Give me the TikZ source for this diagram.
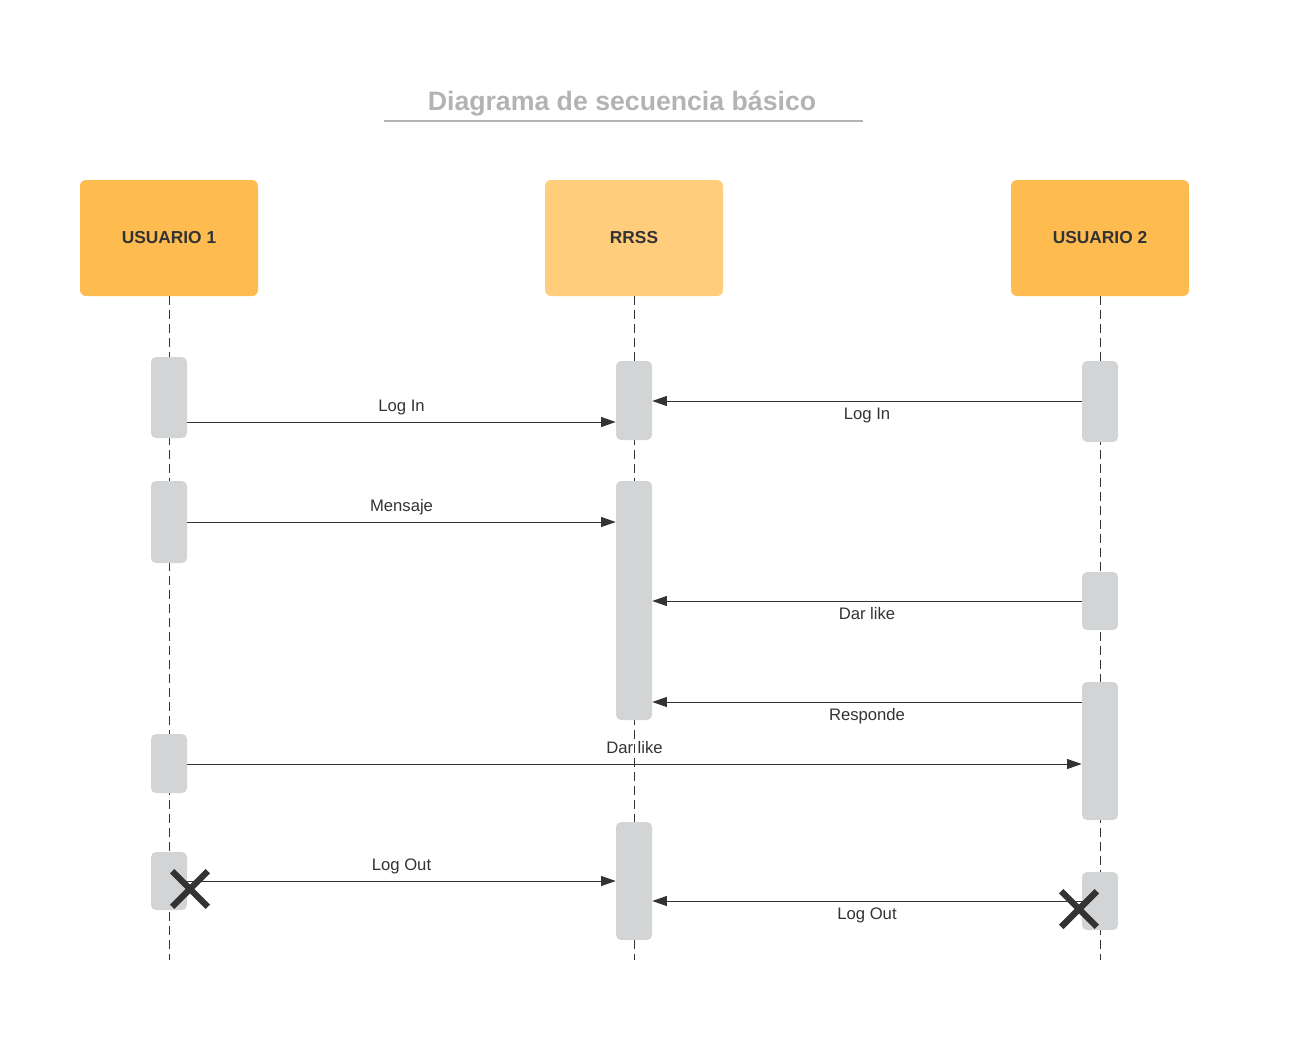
\documentclass[tikz,border=0pt]{standalone}
\usepackage{fontspec}
\setmainfont{Liberation Sans}
\usetikzlibrary{arrows.meta,shapes.misc}
\definecolor{headA}{HTML}{FDBB50}
\definecolor{headB}{HTML}{FFCD7B}
\definecolor{actgray}{HTML}{D3D4D6}
\definecolor{ink}{HTML}{333333}
\definecolor{titlegray}{HTML}{B3B3B3}
\begin{document}
\begin{tikzpicture}[x=0.75pt,y=-0.75pt,
  head/.style={rounded corners=4.5pt, minimum width=133.5pt, minimum height=87pt, inner sep=0pt,
    text=ink, font=\bfseries\fontsize{13}{15}\selectfont},
  lifeline/.style={draw=ink, line width=0.75pt, dash pattern=on 6.75pt off 3.75pt},
  act/.style={fill=actgray, rounded corners=3.75pt, minimum width=27pt, inner sep=0pt},
  msg/.style={draw=ink, line width=0.75pt, -{Triangle[length=11pt,width=7.5pt]}},
  lbl/.style={anchor=base, inner sep=0pt, text=ink, font=\fontsize{12.5}{15}\selectfont},
  xmark/.style={cross out, draw=ink, line width=4.75pt, minimum size=22pt, inner sep=0pt}
]
\useasboundingbox (0,0) rectangle (1289,1040);

% title
\node[text=titlegray, font=\bfseries\fontsize{20}{24}\selectfont] (title) at (622,103.5) {Diagrama de secuencia básico};
\draw[titlegray, line width=1.5pt] (384,121) -- (863,121);

% heads
\node[head, fill=headA] (u1) at (169,238) {USUARIO 1};
\node[head, fill=headB] (rr) at (634,238) {RRSS};
\node[head, fill=headA] (u2) at (1100,238) {USUARIO 2};

% lifelines
\coordinate (e1) at (169,960);
\coordinate (e2) at (634,960);
\coordinate (e3) at (1100,960);
\draw[lifeline] (u1.south) -- (e1);
\draw[lifeline] (rr.south) -- (e2);
\draw[lifeline] (u2.south) -- (e3);

% activations USUARIO 1
\node[act, minimum height=60.75pt] (a1) at (169,397.5) {};
\node[act, minimum height=61.5pt]  (a2) at (169,522) {};
\node[act, minimum height=44.25pt] (a3) at (169,763.5) {};
\node[act, minimum height=43.5pt]  (a4) at (169,881) {};
% activations RRSS
\node[act, minimum height=59.25pt]  (r1) at (634,400.5) {};
\node[act, minimum height=179.25pt] (r2) at (634,600.5) {};
\node[act, minimum height=88.5pt]   (r3) at (634,881) {};
% activations USUARIO 2
\node[act, minimum height=60.75pt] (b1) at (1100,401.5) {};
\node[act, minimum height=43.5pt]  (b2) at (1100,601) {};
\node[act, minimum height=103.5pt] (b3) at (1100,751) {};
\node[act, minimum height=43.5pt]  (b4) at (1100,901) {};

% messages
\draw[msg] (a1.east |- 0,422) -- node[lbl, yshift=8.25pt] {Log In} (r1.west |- 0,422);
\draw[msg] (b1.west |- 0,401) -- node[lbl, yshift=-13.5pt] {Log In} (r1.east |- 0,401);
\draw[msg] (a2.east |- 0,522) -- node[lbl, yshift=8.25pt] {Mensaje} (r2.west |- 0,522);
\draw[msg] (b2.west |- 0,601) -- node[lbl, yshift=-13.5pt] {Dar like} (r2.east |- 0,601);
\draw[msg] (b3.west |- 0,702) -- node[lbl, yshift=-13.5pt] {Responde} (r2.east |- 0,702);
\draw[msg] (a3.east |- 0,764) -- node[lbl, yshift=8.25pt] {Dar like} (b3.west |- 0,764);
\draw[msg] (a4.east |- 0,881) -- node[lbl, yshift=8.25pt] {Log Out} (r3.west |- 0,881);
\draw[msg] (b4.west |- 0,901) -- node[lbl, yshift=-13.5pt] {Log Out} (r3.east |- 0,901);

% destruction marks
\node[xmark] (x1) at (190,889) {};
\node[xmark] (x2) at (1079,909) {};
\end{tikzpicture}
\end{document}
